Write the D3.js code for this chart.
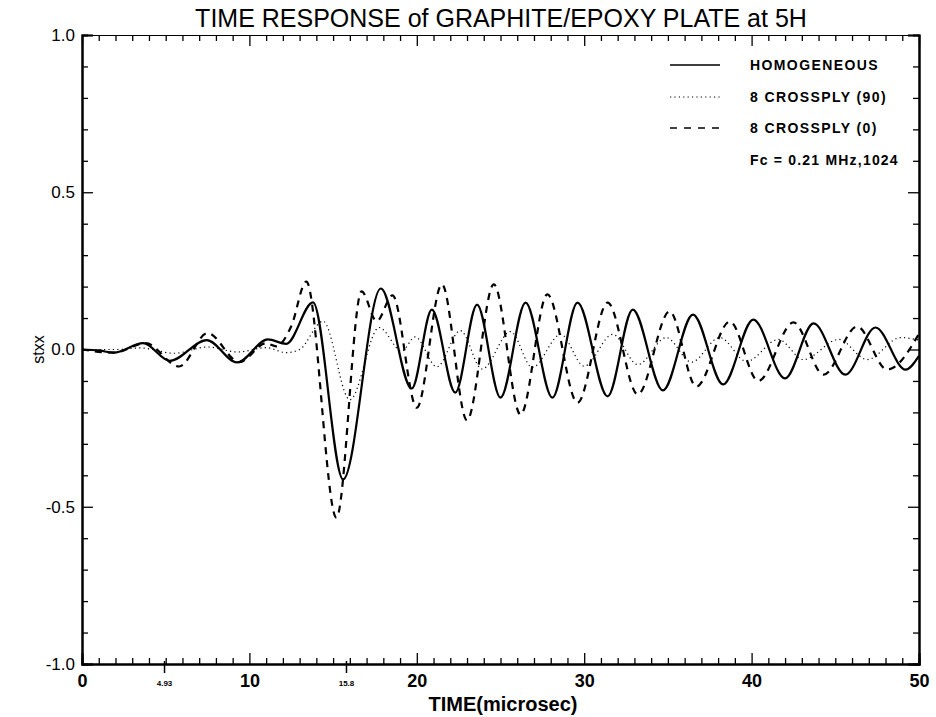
<!DOCTYPE html>
<html>
<head>
<meta charset="utf-8">
<script src="https://cdn.jsdelivr.net/npm/d3@7"></script>
<style>
  body { margin: 0; background: #fff; }
  svg { display: block; }
  text { font-family: "Liberation Sans", Arial, Helvetica, sans-serif; fill: #000; }
</style>
</head>
<body>
<div id="io"></div>
<script>
// [time (microsec), stxx] at the turning points
const homogeneous = [
  [0, 0], [1, -0.003], [1.9, -0.01], [3.65, 0.02], [5.25, -0.036], [7.45, 0.03],
  [9.26, -0.041], [11.1, 0.032], [12.2, 0.018], [13.8, 0.15], [15.6, -0.413],
  [17.85, 0.194], [19.7, -0.124], [20.9, 0.127], [22.3, -0.137], [23.6, 0.143],
  [25.0, -0.153], [26.5, 0.149], [28.1, -0.153], [29.6, 0.149], [31.4, -0.149],
  [32.9, 0.127], [34.7, -0.13], [36.5, 0.111], [38.3, -0.111], [40.1, 0.095],
  [42.0, -0.092], [43.7, 0.083], [45.6, -0.08], [47.4, 0.07], [49.2, -0.064], [50, -0.02]
];
const crossply90 = [
  [0, 0], [2, 0], [3.5, 0.005], [5.5, -0.012], [7.5, 0.008], [9.3, -0.008],
  [11, 0.006], [12.2, -0.01], [13, 0.0], [14.4, 0.09], [16.0, -0.16], [17.75, 0.07],
  [19.1, -0.005], [19.9, 0.04], [21.2, -0.055], [22.6, 0.06], [23.9, -0.062],
  [25.6, 0.057], [26.9, -0.057], [28.6, 0.048], [30.0, -0.053], [31.7, 0.048],
  [33.2, -0.048], [34.9, 0.038], [36.4, -0.04], [38.1, 0.038], [39.7, -0.038],
  [41.6, 0.032], [43.1, -0.032], [45.2, 0.032], [46.9, -0.032], [48.9, 0.038], [50, 0.03]
];
const crossply0 = [
  [0, 0], [1.9, -0.01], [3.8, 0.02], [5.8, -0.054], [7.5, 0.052], [9.4, -0.04],
  [11.0, 0.02], [11.6, 0.01], [12.5, 0.074], [13.4, 0.216], [15.2, -0.535],
  [16.7, 0.185], [17.6, 0.09], [18.55, 0.172], [20.0, -0.185], [21.5, 0.207],
  [23.0, -0.225], [24.6, 0.207], [26.2, -0.207], [27.8, 0.175], [29.6, -0.169],
  [31.4, 0.149], [33.2, -0.143], [35.1, 0.121], [36.7, -0.118], [38.7, 0.089],
  [40.4, -0.1], [42.5, 0.086], [44.3, -0.08], [46.3, 0.073], [48.1, -0.064], [50, 0.05]
];

const xTicks = [0, 10, 20, 30, 40, 50];
const yTicks = [-1.0, -0.5, 0.0, 0.5, 1.0];
const markTimes = [4.93, 15.8];
const markLabels = ['4.93', '15.8'];
const legendNames = ['HOMOGENEOUS', '8 CROSSPLY (90)', '8 CROSSPLY (0)'];
const noteText = 'Fc = 0.21 MHz,1024';
const titleText = 'TIME RESPONSE of GRAPHITE/EPOXY PLATE at 5H';

const W = 936, H = 717;
const m = { left: 82, right: 17, top: 35, bottom: 53 };

const svg = d3.select('#io').append('svg').attr('width', W).attr('height', H);

const x = d3.scaleLinear().domain([0, 50]).range([m.left, W - m.right]);
const y = d3.scaleLinear().domain([-1, 1]).range([H - m.bottom, m.top]);

svg.append('defs').append('clipPath').attr('id', 'plot')
  .append('rect').attr('x', x(0)).attr('y', y(1))
  .attr('width', x(50) - x(0)).attr('height', y(-1) - y(1));

// axes: majors labelled, minors every 1 / 0.1, mirrored on top and right
const xMinor = d3.range(0, 51, 1).filter(d => d % 10 !== 0);
const yMinor = d3.range(-10, 11).map(d => d / 10).filter(d => Math.abs(d * 2 - Math.round(d * 2)) > 1e-6);

function axisPair(g, axisFn, scale, majors, minors, labels, pad) {
  g.append('g').call(axisFn(scale).tickValues(minors).tickSize(-6).tickFormat(''));
  g.append('g').call(axisFn(scale).tickValues(majors).tickSize(-11).tickPadding(pad || 0)
    .tickFormat(labels ? labels : ''));
  g.selectAll('.domain').attr('stroke', '#000');
  g.selectAll('line').attr('stroke', '#000').attr('stroke-width', 1.3);
}

const axBottom = svg.append('g').attr('transform', `translate(0,${y(-1)})`);
axisPair(axBottom, d3.axisBottom, x, xTicks, xMinor, d => String(d), 12);
axBottom.selectAll('.domain').attr('stroke-width', 2);
axBottom.selectAll('text').attr('font-size', 18).attr('font-weight', 'bold').attr('dy', '0.6em');

const axTop = svg.append('g').attr('transform', `translate(0,${y(1)})`);
axisPair(axTop, d3.axisTop, x, xTicks, xMinor, null);
axTop.selectAll('.domain').attr('stroke-width', 1);

const axLeft = svg.append('g').attr('transform', `translate(${x(0)},0)`);
axisPair(axLeft, d3.axisLeft, y, yTicks, yMinor, d => d.toFixed(1), 7);
axLeft.selectAll('.domain').attr('stroke-width', 2);
axLeft.selectAll('text').attr('font-size', 17);

const axRight = svg.append('g').attr('transform', `translate(${x(50)},0)`);
axisPair(axRight, d3.axisRight, y, yTicks, yMinor, null);
axRight.selectAll('.domain').attr('stroke-width', 2);

// arrival markers under the time axis
const marks = svg.append('g');
marks.selectAll('line').data(markTimes).enter().append('line')
  .attr('x1', d => x(d)).attr('x2', d => x(d))
  .attr('y1', y(-1) - 3).attr('y2', y(-1) + 9)
  .attr('stroke', '#000').attr('stroke-width', 1.5);
marks.selectAll('text').data(markTimes).enter().append('text')
  .attr('x', d => x(d)).attr('y', y(-1) + 22)
  .attr('text-anchor', 'middle').attr('font-size', 8).attr('font-weight', 'bold')
  .text((d, i) => markLabels[i]);

// curves
const line = d3.line().x(d => x(d[0])).y(d => y(d[1])).curve(d3.curveMonotoneX);
const styles = [
  { data: homogeneous, width: 2.2, dash: null },
  { data: crossply90, width: 1.2, dash: '1.2,3.2' },
  { data: crossply0, width: 2.2, dash: '7,6' }
];
const plot = svg.append('g').attr('clip-path', 'url(#plot)');
plot.selectAll('path').data(styles).enter().append('path')
  .attr('d', d => line(d.data))
  .attr('fill', 'none').attr('stroke', '#000')
  .attr('stroke-width', d => d.width)
  .attr('stroke-dasharray', d => d.dash);

// legend
const leg = svg.append('g');
const rows = [65, 97, 128];
styles.forEach((s, i) => {
  leg.append('line').attr('x1', 670).attr('x2', 720).attr('y1', rows[i]).attr('y2', rows[i])
    .attr('stroke', '#000').attr('stroke-width', i === 1 ? 1 : 1.6)
    .attr('stroke-dasharray', i === 2 ? '7,7' : s.dash);
  leg.append('text').attr('x', 750).attr('y', rows[i]).attr('dy', '0.35em')
    .attr('font-size', 14).attr('font-weight', 'bold').attr('letter-spacing', 1.4)
    .text(legendNames[i]);
});
leg.append('text').attr('x', 750).attr('y', 160).attr('dy', '0.35em')
  .attr('font-size', 14).attr('font-weight', 'bold').attr('letter-spacing', 1.2).text(noteText);

// titles
svg.append('text').attr('x', 501).attr('y', 27).attr('text-anchor', 'middle')
  .attr('font-size', 25).text(titleText);
svg.append('text').attr('x', 503).attr('y', 711).attr('text-anchor', 'middle')
  .attr('font-size', 20).attr('font-weight', 'bold').text('TIME(microsec)');
svg.append('text').attr('transform', `translate(44,${y(0)}) rotate(-90)`)
  .attr('text-anchor', 'middle').attr('font-size', 16).text('stxx');
</script>
</body>
</html>
